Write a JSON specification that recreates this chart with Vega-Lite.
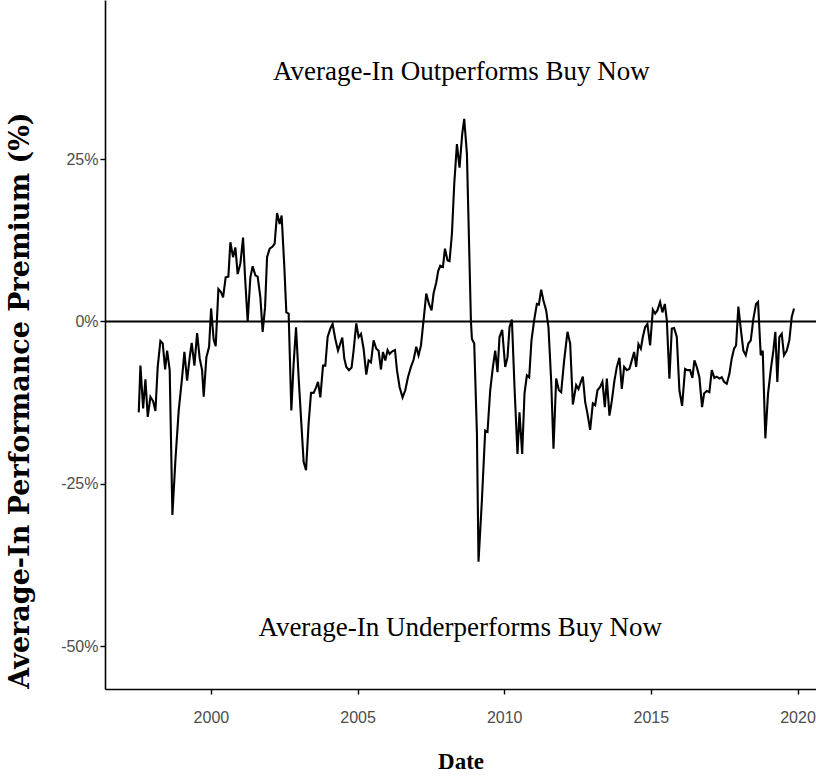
{
  "$schema": "https://vega.github.io/schema/vega-lite/v6.json",
  "width": 711,
  "height": 689,
  "autosize": {"type": "none"},
  "padding": {"left": 105, "top": 0, "right": 0, "bottom": 91},
  "background": "white",
  "config": {
    "view": {"stroke": null},
    "axis": {
      "grid": false,
      "domainColor": "black",
      "domainWidth": 1.6,
      "tickColor": "black",
      "tickWidth": 1.4,
      "tickSize": 5,
      "labelColor": "#4d4d4d",
      "labelFont": "Liberation Sans",
      "labelFontSize": 16,
      "titleFont": "Liberation Serif",
      "titleFontWeight": "bold",
      "titleColor": "black"
    }
  },
  "datasets": {
    "premium": [
      {"date": 1997.540, "premium": -14.0},
      {"date": 1997.598, "premium": -6.8},
      {"date": 1997.690, "premium": -13.4},
      {"date": 1997.768, "premium": -8.9},
      {"date": 1997.847, "premium": -14.7},
      {"date": 1997.939, "premium": -11.6},
      {"date": 1998.031, "premium": -12.3},
      {"date": 1998.109, "premium": -13.8},
      {"date": 1998.187, "premium": -7.0},
      {"date": 1998.279, "premium": -3.0},
      {"date": 1998.358, "premium": -3.4},
      {"date": 1998.440, "premium": -7.4},
      {"date": 1998.508, "premium": -4.5},
      {"date": 1998.596, "premium": -7.5},
      {"date": 1998.688, "premium": -29.8},
      {"date": 1998.790, "premium": -21.4},
      {"date": 1998.903, "premium": -13.7},
      {"date": 1999.019, "premium": -8.6},
      {"date": 1999.097, "premium": -4.7},
      {"date": 1999.189, "premium": -9.1},
      {"date": 1999.278, "premium": -5.5},
      {"date": 1999.346, "premium": -3.3},
      {"date": 1999.438, "premium": -6.8},
      {"date": 1999.530, "premium": -1.8},
      {"date": 1999.618, "premium": -5.7},
      {"date": 1999.700, "premium": -7.5},
      {"date": 1999.755, "premium": -11.6},
      {"date": 1999.847, "premium": -5.5},
      {"date": 1999.939, "premium": -3.9},
      {"date": 2000.007, "premium": 2.0},
      {"date": 2000.095, "premium": -2.8},
      {"date": 2000.164, "premium": -3.8},
      {"date": 2000.256, "premium": 5.0},
      {"date": 2000.348, "premium": 4.5},
      {"date": 2000.416, "premium": 3.7},
      {"date": 2000.504, "premium": 6.8},
      {"date": 2000.596, "premium": 6.9},
      {"date": 2000.664, "premium": 12.2},
      {"date": 2000.756, "premium": 9.9},
      {"date": 2000.835, "premium": 11.4},
      {"date": 2000.913, "premium": 7.3},
      {"date": 2001.005, "premium": 8.9},
      {"date": 2001.097, "premium": 12.9},
      {"date": 2001.165, "premium": 6.8},
      {"date": 2001.254, "premium": 0.0},
      {"date": 2001.346, "premium": 6.8},
      {"date": 2001.424, "premium": 8.5},
      {"date": 2001.516, "premium": 7.1},
      {"date": 2001.595, "premium": 6.9},
      {"date": 2001.687, "premium": 3.7},
      {"date": 2001.765, "premium": -1.6},
      {"date": 2001.847, "premium": 2.2},
      {"date": 2001.915, "premium": 9.9},
      {"date": 2002.003, "premium": 11.2},
      {"date": 2002.095, "premium": 11.5},
      {"date": 2002.174, "premium": 12.0},
      {"date": 2002.256, "premium": 16.7},
      {"date": 2002.344, "premium": 15.0},
      {"date": 2002.412, "premium": 16.3},
      {"date": 2002.504, "premium": 8.4},
      {"date": 2002.572, "premium": 1.4},
      {"date": 2002.651, "premium": 1.2},
      {"date": 2002.743, "premium": -13.7},
      {"date": 2002.821, "premium": -6.5},
      {"date": 2002.903, "premium": -0.9},
      {"date": 2002.991, "premium": -8.6},
      {"date": 2003.084, "premium": -15.7},
      {"date": 2003.162, "premium": -21.6},
      {"date": 2003.244, "premium": -22.9},
      {"date": 2003.332, "premium": -15.7},
      {"date": 2003.414, "premium": -11.0},
      {"date": 2003.503, "premium": -11.0},
      {"date": 2003.584, "premium": -10.2},
      {"date": 2003.652, "premium": -9.3},
      {"date": 2003.731, "premium": -11.7},
      {"date": 2003.823, "premium": -6.8},
      {"date": 2003.901, "premium": -6.8},
      {"date": 2003.980, "premium": -2.4},
      {"date": 2004.072, "premium": -1.1},
      {"date": 2004.150, "premium": -0.4},
      {"date": 2004.242, "premium": -2.7},
      {"date": 2004.334, "premium": -4.5},
      {"date": 2004.412, "premium": -3.4},
      {"date": 2004.480, "premium": -2.5},
      {"date": 2004.549, "premium": -5.7},
      {"date": 2004.617, "premium": -7.0},
      {"date": 2004.709, "premium": -7.5},
      {"date": 2004.797, "premium": -7.1},
      {"date": 2004.865, "premium": -4.5},
      {"date": 2004.957, "premium": -0.3},
      {"date": 2005.036, "premium": -2.4},
      {"date": 2005.118, "premium": -1.9},
      {"date": 2005.206, "premium": -4.2},
      {"date": 2005.298, "premium": -8.2},
      {"date": 2005.377, "premium": -6.0},
      {"date": 2005.458, "premium": -6.3},
      {"date": 2005.547, "premium": -2.9},
      {"date": 2005.639, "premium": -4.2},
      {"date": 2005.717, "premium": -4.5},
      {"date": 2005.799, "premium": -7.4},
      {"date": 2005.867, "premium": -4.7},
      {"date": 2005.946, "premium": -6.0},
      {"date": 2006.024, "premium": -4.4},
      {"date": 2006.092, "premium": -5.0},
      {"date": 2006.184, "premium": -4.6},
      {"date": 2006.276, "premium": -4.4},
      {"date": 2006.344, "premium": -7.5},
      {"date": 2006.433, "premium": -10.1},
      {"date": 2006.535, "premium": -11.7},
      {"date": 2006.627, "premium": -10.6},
      {"date": 2006.719, "premium": -8.6},
      {"date": 2006.821, "premium": -7.0},
      {"date": 2006.910, "premium": -5.9},
      {"date": 2007.002, "premium": -3.9},
      {"date": 2007.080, "premium": -5.2},
      {"date": 2007.162, "premium": -3.7},
      {"date": 2007.251, "premium": 0.2},
      {"date": 2007.343, "premium": 4.3},
      {"date": 2007.435, "premium": 2.7},
      {"date": 2007.523, "premium": 1.7},
      {"date": 2007.591, "premium": 4.3},
      {"date": 2007.683, "premium": 6.0},
      {"date": 2007.751, "premium": 7.8},
      {"date": 2007.820, "premium": 8.6},
      {"date": 2007.911, "premium": 8.4},
      {"date": 2007.980, "premium": 11.2},
      {"date": 2008.068, "premium": 9.4},
      {"date": 2008.136, "premium": 9.3},
      {"date": 2008.218, "premium": 13.5},
      {"date": 2008.297, "premium": 21.2},
      {"date": 2008.388, "premium": 27.3},
      {"date": 2008.477, "premium": 23.7},
      {"date": 2008.569, "premium": 28.9},
      {"date": 2008.637, "premium": 31.2},
      {"date": 2008.729, "premium": 25.8},
      {"date": 2008.866, "premium": 0.0},
      {"date": 2008.900, "premium": -2.7},
      {"date": 2008.978, "premium": -3.4},
      {"date": 2009.070, "premium": -17.3},
      {"date": 2009.124, "premium": -37.0},
      {"date": 2009.240, "premium": -27.5},
      {"date": 2009.353, "premium": -16.8},
      {"date": 2009.431, "premium": -17.0},
      {"date": 2009.523, "premium": -10.6},
      {"date": 2009.615, "premium": -7.0},
      {"date": 2009.693, "premium": -4.5},
      {"date": 2009.772, "premium": -7.8},
      {"date": 2009.840, "premium": -2.4},
      {"date": 2009.932, "premium": -1.3},
      {"date": 2010.034, "premium": -7.0},
      {"date": 2010.113, "premium": -5.5},
      {"date": 2010.181, "premium": -0.9},
      {"date": 2010.262, "premium": 0.3},
      {"date": 2010.351, "premium": -10.1},
      {"date": 2010.453, "premium": -20.4},
      {"date": 2010.521, "premium": -14.0},
      {"date": 2010.613, "premium": -20.4},
      {"date": 2010.692, "premium": -11.1},
      {"date": 2010.773, "premium": -8.3},
      {"date": 2010.852, "premium": -8.6},
      {"date": 2010.930, "premium": -2.9},
      {"date": 2011.022, "premium": 0.2},
      {"date": 2011.114, "premium": 2.7},
      {"date": 2011.182, "premium": 2.6},
      {"date": 2011.261, "premium": 4.9},
      {"date": 2011.339, "premium": 3.2},
      {"date": 2011.431, "premium": 1.7},
      {"date": 2011.509, "premium": -0.9},
      {"date": 2011.601, "premium": -9.1},
      {"date": 2011.680, "premium": -19.6},
      {"date": 2011.772, "premium": -8.8},
      {"date": 2011.864, "premium": -10.6},
      {"date": 2011.942, "premium": -10.9},
      {"date": 2012.044, "premium": -6.0},
      {"date": 2012.157, "premium": -1.6},
      {"date": 2012.249, "premium": -3.4},
      {"date": 2012.341, "premium": -12.8},
      {"date": 2012.453, "premium": -9.8},
      {"date": 2012.532, "premium": -10.4},
      {"date": 2012.613, "premium": -9.3},
      {"date": 2012.681, "premium": -8.5},
      {"date": 2012.760, "premium": -12.4},
      {"date": 2012.838, "premium": -14.2},
      {"date": 2012.930, "premium": -16.7},
      {"date": 2013.022, "premium": -12.6},
      {"date": 2013.101, "premium": -12.9},
      {"date": 2013.179, "premium": -10.6},
      {"date": 2013.271, "premium": -10.1},
      {"date": 2013.349, "premium": -9.3},
      {"date": 2013.431, "premium": -13.2},
      {"date": 2013.499, "premium": -8.8},
      {"date": 2013.588, "premium": -14.5},
      {"date": 2013.670, "premium": -12.2},
      {"date": 2013.758, "premium": -9.1},
      {"date": 2013.840, "premium": -7.0},
      {"date": 2013.929, "premium": -5.6},
      {"date": 2014.010, "premium": -10.4},
      {"date": 2014.089, "premium": -7.0},
      {"date": 2014.181, "premium": -7.5},
      {"date": 2014.269, "premium": -7.3},
      {"date": 2014.351, "premium": -6.0},
      {"date": 2014.429, "premium": -4.7},
      {"date": 2014.498, "premium": -7.0},
      {"date": 2014.576, "premium": -3.5},
      {"date": 2014.658, "premium": -4.2},
      {"date": 2014.726, "premium": -2.4},
      {"date": 2014.804, "premium": -0.9},
      {"date": 2014.883, "premium": -0.4},
      {"date": 2014.975, "premium": -3.7},
      {"date": 2015.067, "premium": 1.8},
      {"date": 2015.145, "premium": 1.2},
      {"date": 2015.223, "premium": 1.7},
      {"date": 2015.315, "premium": 3.0},
      {"date": 2015.394, "premium": 1.4},
      {"date": 2015.476, "premium": 2.7},
      {"date": 2015.544, "premium": 0.2},
      {"date": 2015.632, "premium": -8.8},
      {"date": 2015.714, "premium": -1.1},
      {"date": 2015.792, "premium": -1.0},
      {"date": 2015.884, "premium": -2.4},
      {"date": 2015.973, "premium": -10.6},
      {"date": 2016.065, "premium": -13.0},
      {"date": 2016.167, "premium": -7.3},
      {"date": 2016.245, "premium": -7.5},
      {"date": 2016.337, "premium": -7.5},
      {"date": 2016.416, "premium": -8.7},
      {"date": 2016.484, "premium": -6.0},
      {"date": 2016.565, "premium": -7.0},
      {"date": 2016.654, "premium": -8.6},
      {"date": 2016.746, "premium": -13.2},
      {"date": 2016.814, "premium": -11.1},
      {"date": 2016.906, "premium": -10.7},
      {"date": 2016.995, "premium": -10.9},
      {"date": 2017.077, "premium": -7.5},
      {"date": 2017.165, "premium": -8.7},
      {"date": 2017.247, "premium": -8.5},
      {"date": 2017.336, "premium": -8.8},
      {"date": 2017.417, "premium": -8.6},
      {"date": 2017.496, "premium": -9.3},
      {"date": 2017.588, "premium": -9.6},
      {"date": 2017.676, "premium": -8.1},
      {"date": 2017.758, "premium": -5.7},
      {"date": 2017.836, "premium": -4.2},
      {"date": 2017.905, "premium": -3.7},
      {"date": 2017.983, "premium": 2.3},
      {"date": 2018.065, "premium": -1.1},
      {"date": 2018.154, "premium": -4.5},
      {"date": 2018.235, "premium": -5.2},
      {"date": 2018.324, "premium": -3.4},
      {"date": 2018.406, "premium": -2.9},
      {"date": 2018.494, "premium": 0.4},
      {"date": 2018.586, "premium": 2.7},
      {"date": 2018.654, "premium": 3.0},
      {"date": 2018.746, "premium": -5.2},
      {"date": 2018.814, "premium": -4.5},
      {"date": 2018.903, "premium": -18.0},
      {"date": 2018.995, "premium": -11.1},
      {"date": 2019.087, "premium": -7.5},
      {"date": 2019.176, "premium": -4.5},
      {"date": 2019.244, "premium": -1.6},
      {"date": 2019.312, "premium": -9.3},
      {"date": 2019.380, "premium": -2.4},
      {"date": 2019.462, "premium": -1.9},
      {"date": 2019.540, "premium": -5.2},
      {"date": 2019.632, "premium": -4.5},
      {"date": 2019.721, "premium": -2.9},
      {"date": 2019.803, "premium": 0.7},
      {"date": 2019.881, "premium": 2.0}
    ],
    "notes": [
      {"date": 2008.54, "premium": 38.4, "label": "Average-In Outperforms Buy Now"},
      {"date": 2008.50, "premium": -47.2, "label": "Average-In Underperforms Buy Now"}
    ],
    "zero": [{"premium": 0}]
  },
  "layer": [
    {
      "data": {"name": "zero"},
      "mark": {"type": "rule", "color": "black", "strokeWidth": 2},
      "encoding": {
        "y": {"field": "premium", "type": "quantitative", "scale": {"domain": [-56.6, 49.5], "nice": false, "zero": false}}
      }
    },
    {
      "data": {"name": "premium"},
      "mark": {"type": "line", "color": "black", "strokeWidth": 2.1, "strokeJoin": "miter"},
      "encoding": {
        "x": {
          "field": "date",
          "type": "quantitative",
          "scale": {"domain": [1996.39, 2020.63], "nice": false, "zero": false},
          "axis": {
            "values": [2000, 2005, 2010, 2015, 2020],
            "format": "d",
            "title": "Date",
            "titleFontSize": 23,
            "labelPadding": 15,
            "titlePadding": 25
          }
        },
        "y": {
          "field": "premium",
          "type": "quantitative",
          "scale": {"domain": [-56.6, 49.5], "nice": false, "zero": false},
          "axis": {
            "values": [-50, -25, 0, 25],
            "labelExpr": "datum.value + '%'",
            "title": "Average-In Performance Premium (%)",
            "titleFont": "DejaVu Serif",
            "titleFontSize": 27,
            "titleX": -71,
            "titleY": 400
          }
        }
      }
    },
    {
      "data": {"name": "notes"},
      "mark": {"type": "text", "font": "Liberation Serif", "fontSize": 27, "color": "black", "align": "center", "baseline": "middle"},
      "encoding": {
        "x": {"field": "date", "type": "quantitative"},
        "y": {"field": "premium", "type": "quantitative"},
        "text": {"field": "label"}
      }
    }
  ]
}
